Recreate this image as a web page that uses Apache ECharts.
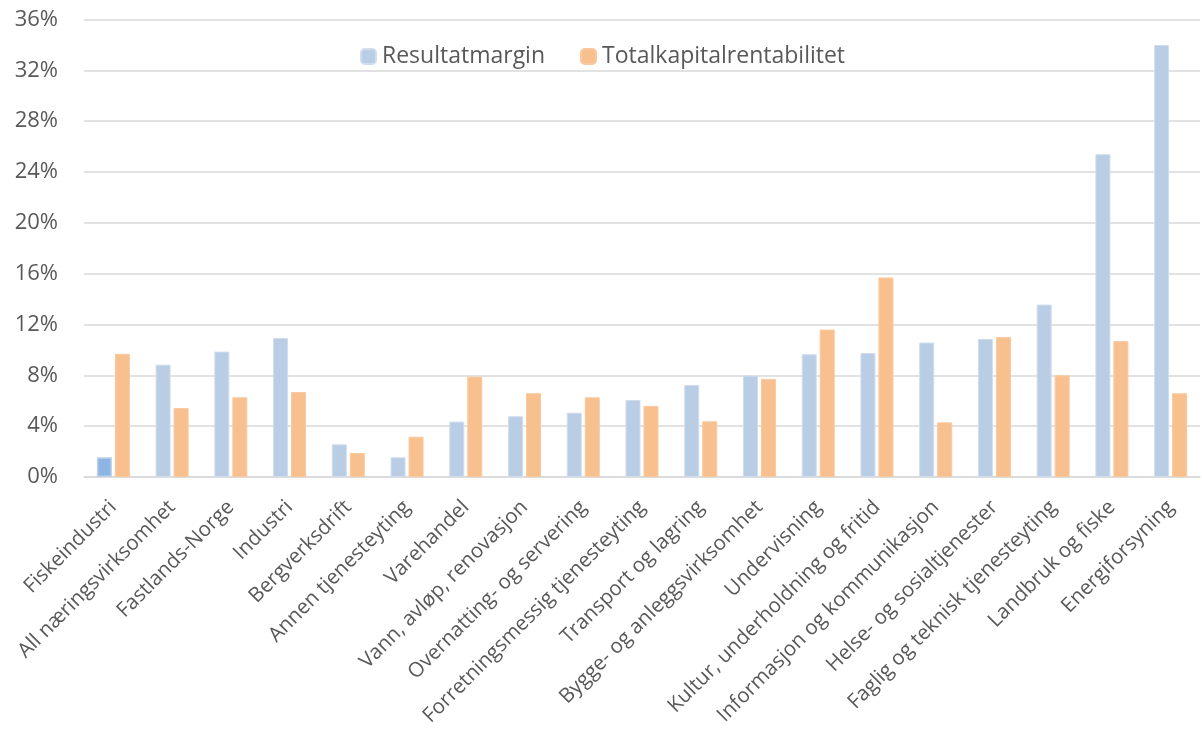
<!DOCTYPE html>
<html>
<head>
<meta charset="utf-8">
<script src="https://cdn.jsdelivr.net/npm/echarts@6/dist/echarts.min.js"></script>
<style>
html,body{margin:0;padding:0;background:#fff;}
#chart{width:1202px;height:729px;}
</style>
</head>
<body>
<div id="chart"></div>
<script>
const categories = ["Fiskeindustri","All næringsvirksomhet","Fastlands-Norge","Industri","Bergverksdrift","Annen tjenesteyting","Varehandel","Vann, avløp, renovasjon","Overnatting- og servering","Forretningsmessig tjenesteyting","Transport og lagring","Bygge- og anleggsvirksomhet","Undervisning","Kultur, underholdning og fritid","Informasjon og kommunikasjon","Helse- og sosialtjenester","Faglig og teknisk tjenesteyting","Landbruk og fiske","Energiforsyning"];
const resultatmargin = [1.55,8.84,9.87,10.94,2.57,1.55,4.36,4.78,5.06,6.06,7.24,7.98,9.66,9.76,10.58,10.87,13.57,25.4,33.99];
const totalkapitalrentabilitet = [9.69,5.43,6.27,6.69,1.89,3.17,7.9,6.59,6.27,5.59,4.38,7.72,11.6,15.7,4.3,11.02,8.0,10.7,6.59];
const yTicks = {min:0, max:36, interval:4};

const FONT = 'Open Sans';
const chart = echarts.init(document.getElementById('chart'), null, {renderer:'canvas'});
chart.setOption({
  animation:false,
  backgroundColor:'#fff',
  textStyle:{fontFamily:FONT},
  grid:{left:84, right:2, top:19.5, bottom:252, containLabel:false, outerBoundsMode:'none'},
  legend:{
    left:355, top:40, itemWidth:15, itemHeight:15, itemGap:35,
    textStyle:{color:'#595959', fontSize:23, fontFamily:FONT, padding:[0,0,0,1]},
    data:['Resultatmargin','Totalkapitalrentabilitet']
  },
  xAxis:{
    type:'category', data:categories,
    axisLine:{lineStyle:{color:'#D9D9D9', width:1.5}},
    axisTick:{show:false},
    axisLabel:{rotate:45, interval:0, color:'#595959', fontSize:20.5, fontFamily:FONT, margin:27}
  },
  yAxis:{
    type:'value', min:yTicks.min, max:yTicks.max, interval:yTicks.interval,
    axisLabel:{formatter:'{value}%', color:'#595959', fontSize:22, fontFamily:FONT, margin:26},
    axisLine:{show:false}, axisTick:{show:false},
    splitLine:{lineStyle:{color:'#D9D9D9', width:1.5}}
  },
  series:[
    {name:'Resultatmargin', type:'bar', barWidth:15, barGap:'20%',
     itemStyle:{color:'#B9CDE5', borderColor:'#CFDDEF', borderWidth:1},
     data:resultatmargin.map((v,i)=> i===0 ? {value:v, itemStyle:{color:'#8EB4E3', borderColor:'#BDD0E8', borderWidth:1.5}} : v)},
    {name:'Totalkapitalrentabilitet', type:'bar', barWidth:15, barGap:'20%',
     itemStyle:{color:'#F9C08F', borderColor:'#FAC89C', borderWidth:1},
     data:totalkapitalrentabilitet}
  ]
});
</script>
</body>
</html>
